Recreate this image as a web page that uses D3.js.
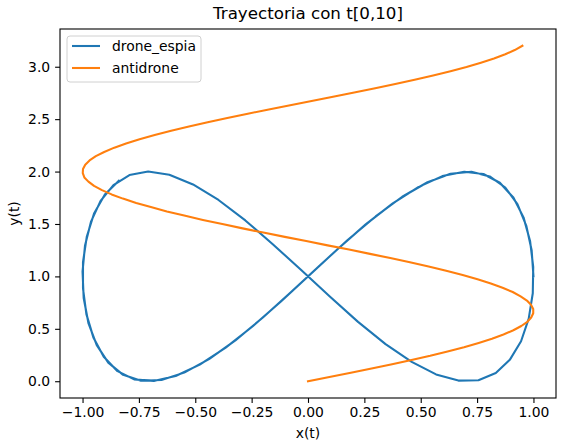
<!DOCTYPE html>
<html lang="es">
<head>
<meta charset="UTF-8">
<title>Trayectoria con t[0,10]</title>
<script src="https://d3js.org/d3.v7.min.js"></script>
<style>
  body { margin: 0; background: #fff; }
  svg { display: block; font-family: "DejaVu Sans", sans-serif; }
  .axis text { font-size: 13.9px; fill: #000; font-family: "DejaVu Sans", sans-serif; }
  .axis path, .axis line { stroke: #000; stroke-width: 1.1px; }
  .serie { fill: none; stroke-width: 2.08px; stroke-linejoin: round; stroke-linecap: square; }
</style>
</head>
<body>
<svg id="chart" width="563" height="445"></svg>
<script>
// drone_espia, 80 muestras en t[0,10]
const droneX = [
  1.000, 0.992, 0.968, 0.929, 0.875, 0.806, 0.725, 0.632, 0.530, 0.418,
  0.300, 0.177, 0.052, -0.075, -0.200, -0.322, -0.439, -0.549, -0.650, -0.741,
  -0.820, -0.886, -0.937, -0.974, -0.995, -1.000, -0.989, -0.962, -0.920, -0.863,
  -0.792, -0.709, -0.615, -0.510, -0.397, -0.278, -0.155, -0.029, 0.098, 0.222,
  0.344, 0.460, 0.568, 0.667, 0.756, 0.833, 0.895, 0.945, 0.979, 0.997,
  0.999, 0.985, 0.956, 0.911, 0.851, 0.778, 0.693, 0.596, 0.491, 0.376,
  0.256, 0.132, 0.006, -0.120, -0.245, -0.365, -0.480, -0.587, -0.684, -0.771,
  -0.845, -0.906, -0.952, -0.983, -0.998, -0.998, -0.981, -0.949, -0.901, -0.839
];
const droneY = [
  1.000, 1.250, 1.485, 1.689, 1.848, 1.954, 1.999, 1.980, 1.898, 1.760,
  1.572, 1.350, 1.103, 0.851, 0.608, 0.390, 0.211, 0.082, 0.012, 0.005,
  0.061, 0.177, 0.345, 0.555, 0.794, 1.046, 1.295, 1.525, 1.721, 1.871,
  1.967, 2.000, 1.970, 1.877, 1.729, 1.534, 1.305, 1.058, 0.806, 0.566,
  0.354, 0.184, 0.065, 0.006, 0.010, 0.078, 0.204, 0.381, 0.597, 0.839,
  1.092, 1.338, 1.563, 1.752, 1.893, 1.977, 1.999, 1.957, 1.854, 1.697,
  1.496, 1.262, 1.012, 0.761, 0.525, 0.320, 0.158, 0.050, 0.002, 0.018,
  0.096, 0.233, 0.418, 0.640, 0.885, 1.137, 1.381, 1.600, 1.782, 1.913
];

// antidrone, mismas muestras
const antiX = [
  0.000, 0.095, 0.190, 0.282, 0.373, 0.459, 0.542, 0.619, 0.692, 0.757,
  0.816, 0.867, 0.911, 0.946, 0.973, 0.990, 0.999, 0.999, 0.989, 0.971,
  0.943, 0.908, 0.863, 0.811, 0.752, 0.686, 0.613, 0.535, 0.452, 0.365,
  0.275, 0.182, 0.087, -0.008, -0.103, -0.198, -0.290, -0.380, -0.466, -0.549,
  -0.626, -0.697, -0.762, -0.821, -0.871, -0.914, -0.949, -0.974, -0.992, -0.999,
  -0.998, -0.988, -0.969, -0.941, -0.904, -0.859, -0.807, -0.747, -0.680, -0.607,
  -0.528, -0.445, -0.358, -0.267, -0.174, -0.079, 0.016, 0.111, 0.205, 0.298,
  0.387, 0.473, 0.555, 0.632, 0.703, 0.767, 0.825, 0.875, 0.917, 0.951
];
const antiY = [
  0.000, 0.041, 0.081, 0.122, 0.162, 0.203, 0.243, 0.284, 0.324, 0.365,
  0.405, 0.446, 0.486, 0.527, 0.567, 0.608, 0.648, 0.689, 0.729, 0.770,
  0.810, 0.851, 0.891, 0.932, 0.972, 1.013, 1.053, 1.094, 1.134, 1.175,
  1.215, 1.256, 1.296, 1.337, 1.377, 1.418, 1.458, 1.499, 1.539, 1.580,
  1.620, 1.661, 1.701, 1.742, 1.782, 1.823, 1.863, 1.904, 1.944, 1.985,
  2.025, 2.066, 2.106, 2.147, 2.187, 2.228, 2.268, 2.309, 2.349, 2.390,
  2.430, 2.471, 2.511, 2.552, 2.592, 2.633, 2.673, 2.714, 2.754, 2.795,
  2.835, 2.876, 2.916, 2.957, 2.997, 3.038, 3.078, 3.119, 3.159, 3.200
];

const seriesNames = ['drone_espia', 'antidrone'];
const seriesColors = ['#1f77b4', '#ff7f0e'];
const xTicks = [-1.0, -0.75, -0.5, -0.25, 0.0, 0.25, 0.5, 0.75, 1.0];
const yTicks = [0.0, 0.5, 1.0, 1.5, 2.0, 2.5, 3.0];

const margin = { top: 29, right: 7, bottom: 47, left: 60 };
const width = 563, height = 445;
const iw = width - margin.left - margin.right;
const ih = height - margin.top - margin.bottom;

const svg = d3.select('#chart');
const g = svg.append('g').attr('transform', `translate(${margin.left},${margin.top})`);

const x = d3.scaleLinear().domain([-1.1, 1.1]).range([0, iw]);
const y = d3.scaleLinear().domain([-0.16, 3.36]).range([ih, 0]);

const minus = s => s.replace('-', '\u2212');

const xAxis = g.append('g').attr('class', 'axis')
  .attr('transform', `translate(0,${ih})`)
  .call(d3.axisBottom(x).tickValues(xTicks).tickSize(4.9).tickPadding(4.5)
    .tickFormat(d => minus(d3.format('.2f')(d))));
const yAxis = g.append('g').attr('class', 'axis')
  .call(d3.axisLeft(y).tickValues(yTicks).tickSize(4.9).tickPadding(4.9)
    .tickFormat(d => minus(d3.format('.1f')(d))));
xAxis.select('.domain').remove();
yAxis.select('.domain').remove();

const line = d3.line().x(d => x(d[0])).y(d => y(d[1]));

const series = [
  d3.zip(droneX, droneY),
  d3.zip(antiX, antiY)
];

g.selectAll('path.serie')
  .data(series)
  .enter().append('path')
  .attr('class', 'serie')
  .attr('stroke', (d, i) => seriesColors[i])
  .attr('d', line);

// marco
g.append('rect')
  .attr('x', 0).attr('y', 0).attr('width', iw).attr('height', ih)
  .attr('fill', 'none').attr('stroke', '#000').attr('stroke-width', 1.1);

// leyenda
const leg = g.append('g').attr('transform', 'translate(7,7)');
leg.append('rect')
  .attr('width', 134).attr('height', 46).attr('rx', 3)
  .attr('fill', 'rgba(255,255,255,0.8)').attr('stroke', '#d0d0d0').attr('stroke-width', 1);
seriesNames.forEach((name, i) => {
  const yy = 10 + i * 22;
  leg.append('line')
    .attr('x1', 5).attr('x2', 33).attr('y1', yy).attr('y2', yy)
    .attr('stroke', seriesColors[i]).attr('stroke-width', 2.08);
  leg.append('text')
    .attr('x', 45).attr('y', yy).attr('dy', '0.35em')
    .attr('font-size', '13.9px').text(name);
});

// textos
svg.append('text')
  .attr('x', margin.left + iw / 2).attr('y', 19)
  .attr('text-anchor', 'middle').attr('font-size', '16.7px')
  .text('Trayectoria con t[0,10]');
svg.append('text')
  .attr('x', margin.left + iw / 2).attr('y', 438)
  .attr('text-anchor', 'middle').attr('font-size', '13.9px')
  .text('x(t)');
svg.append('text')
  .attr('transform', `translate(19,${margin.top + ih / 2}) rotate(-90)`)
  .attr('text-anchor', 'middle').attr('font-size', '13.9px')
  .text('y(t)');
</script>
</body>
</html>
